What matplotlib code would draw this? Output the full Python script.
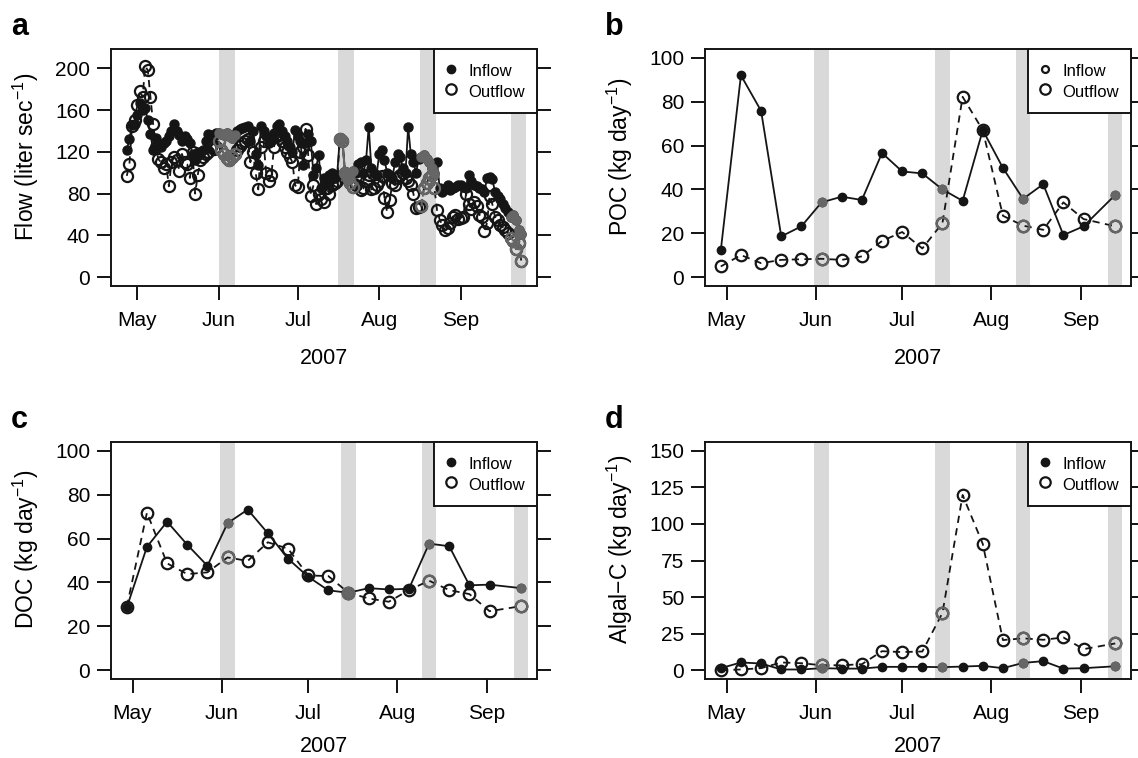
import numpy as np
import pandas as pd
import matplotlib
matplotlib.use("Agg")
import matplotlib.pyplot as plt
import matplotlib.dates as mdates
from matplotlib.lines import Line2D

plt.rcParams['font.family'] = ['Liberation Sans', 'DejaVu Sans']
plt.rcParams['mathtext.fontset'] = 'custom'
plt.rcParams['mathtext.rm'] = 'Liberation Sans'
plt.rcParams['mathtext.it'] = 'Liberation Sans:italic'

# --- daily flow (liter/sec), 27 Apr - 24 Sep 2007 ---
flow_start = "2007-04-27"
flow_in = [122, 132, 146, 147,
           155, 167, 160, 162, 150, 137, 122, 133, 128, 125, 128, 130, 135, 140, 147, 140,
           136, 130, 135, 132, 128, 118, 112, 120, 118, 122, 130, 137, 136, 135, 138,
           138, 137, 136, 138, 135, 133, 136, 140, 142, 143, 144, 145, 130, 140, 118,
           107, 145, 140, 135, 128, 130, 138, 145, 147, 140, 135, 130, 125, 120, 141,
           135, 130, 107, 128, 137, 130, 98, 105, 117, 85, 95, 90, 98, 100, 95, 98,
           133, 132, 100, 95, 98, 102, 100, 108, 110, 100, 112, 144, 105, 100, 98,
           118, 122, 112, 100, 98, 95, 110, 118, 115, 105, 100, 144, 118, 110, 100, 113,
           115, 117, 113, 110, 105, 100, 110, 85, 82, 84, 88, 83, 85, 86, 88,
           88, 86, 85, 98, 92, 88, 87, 85, 84, 82, 95, 96, 94, 82, 78, 75, 70, 66, 62,
           58, 60, 55, 45, 41]
flow_out = [97, 108, 145, 150,
            165, 178, 172, 202, 198, 172, 147, 125, 113, 110, 105, 108, 87, 110, 115, 112,
            102, 118, 110, 108, 95, 120, 80, 98, 112, 115, 118, 120, 125, 123, 125,
            130, 122, 118, 114, 112, 115, 118, 122, 126, 128, 130, 132, 110, 120, 100,
            84, 125, 130, 100, 92, 98, 125, 135, 137, 130, 125, 120, 115, 110, 88,
            86, 120, 125, 142, 117, 78, 88, 70, 80, 75, 72, 85, 80, 88, 90, 92,
            132, 130, 100, 95, 90, 86, 88, 95, 83, 85, 92, 98, 84, 85, 88,
            92, 97, 76, 62, 74, 90, 88, 95, 98, 100, 95, 92, 88, 80, 66, 67,
            68, 85, 90, 95, 98, 85, 64, 55, 50, 45, 47, 52, 58, 60, 56,
            57, 58, 80, 70, 65, 72, 68, 60, 58, 44, 52, 78, 70, 58, 55, 50, 48, 45, 42,
            38, 35, 27, 33, 16]
flow_bands = [("2007-06-01", "2007-06-07"), ("2007-07-16 12:00", "2007-07-22 12:00"),
              ("2007-08-16 12:00", "2007-08-22 12:00"), ("2007-09-20", "2007-09-26")]

# --- weekly loads (kg/day) ---
sample_dates = ["2007-04-29", "2007-05-06", "2007-05-13", "2007-05-20", "2007-05-27",
                "2007-06-03", "2007-06-10", "2007-06-17", "2007-06-24", "2007-07-01",
                "2007-07-08", "2007-07-15", "2007-07-22", "2007-07-29", "2007-08-05",
                "2007-08-12", "2007-08-19", "2007-08-26", "2007-09-02", "2007-09-13"]
poc_in = [12.2, 92, 75.8, 18.6, 23.2, 34.1, 36.7, 35.2, 56.6, 48.2,
          47.3, 40, 34.8, 67, 49.8, 35.7, 42.4, 19.2, 23.2, 37.5]
poc_out = [4.9, 10.1, 6.4, 7.9, 8.2, 8.4, 7.9, 9.5, 16.5, 20.6,
           13.1, 24.7, 82.2, 67, 28, 23.5, 21.6, 34.1, 26.5, 23.2]
doc_in = [28.6, 56.2, 67.7, 57.2, 47.6, 67, 73.2, 62.4, 50.8, 42.6,
          36.4, 35.3, 37.4, 36.8, 37.1, 57.7, 56.5, 38.7, 39, 37.4]
doc_out = [28.9, 71.8, 48.7, 43.8, 44.6, 51.4, 49.8, 58.3, 55.4, 43.2,
           42.9, 35.3, 32.7, 31.2, 36.5, 40.8, 36.5, 34.7, 26.9, 29.2]
algal_in = [1.4, 5.3, 4.6, 0.5, 0.5, 1.4, 1.1, 1.1, 2.3, 2.3,
            2.3, 2.1, 2.5, 3, 1.4, 5, 6.2, 1.1, 1.4, 2.7]
algal_out = [0, 0.5, 1.4, 5.3, 4.8, 3.4, 3.4, 4.1, 13, 12.4,
             12.8, 39.2, 119.8, 86.3, 20.6, 21.8, 20.8, 22.4, 14.4, 18.3]
sample_bands = [("2007-05-31 12:00", "2007-06-05 12:00"), ("2007-07-12 12:00", "2007-07-17 12:00"),
                ("2007-08-09 12:00", "2007-08-14 12:00"), ("2007-09-10 12:00", "2007-09-15 12:00")]

month_ticks = ["2007-05-01", "2007-06-01", "2007-07-01", "2007-08-01", "2007-09-01"]
month_labels = ["May", "Jun", "Jul", "Aug", "Sep"]

BLACK = '#151515'
GRAY = '#666666'
BAND = '#d9d9d9'


def draw_panel(ax, dates, inflow, outflow, bands, letter, ylabel, ylim, yticks,
               ms_in, ms_out, open_inflow_key=False, xlab_y=-0.305):
    dates = pd.to_datetime(pd.Series(dates)).values
    inflow = np.asarray(inflow, float)
    outflow = np.asarray(outflow, float)
    for b0, b1 in bands:
        ax.axvspan(pd.Timestamp(b0), pd.Timestamp(b1), color=BAND, lw=0, zorder=0)

    ax.plot(dates, outflow, ls=(0, (4, 3)), color=BLACK, lw=1.3, marker='o', ms=ms_out,
            mfc='none', mec=BLACK, mew=1.6, zorder=2)
    ax.plot(dates, inflow, ls='-', color=BLACK, lw=1.3, marker='o', ms=ms_in,
            mfc=BLACK, mec=BLACK, zorder=3)
    # points inside the shaded periods drawn in grey
    for b0, b1 in bands:
        m = (dates >= np.datetime64(pd.Timestamp(b0))) & (dates <= np.datetime64(pd.Timestamp(b1)))
        if m.any():
            ax.plot(dates[m], outflow[m], ls='--', color=GRAY, lw=1.3, marker='o', ms=ms_out,
                    mfc='none', mec=GRAY, mew=1.6, zorder=4)
            ax.plot(dates[m], inflow[m], ls='-', color=GRAY, lw=1.3, marker='o', ms=ms_in,
                    mfc=GRAY, mec=GRAY, zorder=5)

    lo = mdates.date2num(dates.min())
    hi = mdates.date2num(dates.max())
    pad = 0.04 * (hi - lo)
    ax.set_xlim(lo - pad, hi + pad)
    rng = ylim[1] - ylim[0]
    ax.set_ylim(ylim[0] - 0.04 * rng, ylim[1] + 0.04 * rng)

    ax.set_xticks(pd.to_datetime(month_ticks))
    ax.set_xticklabels(month_labels)
    ax.set_yticks(yticks)
    ax.tick_params(axis='both', direction='out', length=10, width=1.3, labelsize=15,
                   right=True, labelright=False, top=False)
    ax.tick_params(axis='x', pad=8)
    ax.tick_params(axis='y', pad=5)
    for s in ax.spines.values():
        s.set_linewidth(1.4)
        s.set_color(BLACK)

    ax.set_xlabel("2007", fontsize=15.5, va='center')
    ax.xaxis.set_label_coords(0.5, xlab_y)
    ax.set_ylabel(ylabel, fontsize=16.5, va='center')
    ax.yaxis.set_label_coords(-0.2, 0.546)
    ax.text(-0.235, 1.06, letter, transform=ax.transAxes, fontsize=22,
            fontweight='bold', va='baseline', ha='left')

    if open_inflow_key:
        h_in = Line2D([], [], ls='none', marker='o', ms=5, mfc='none', mec=BLACK, mew=1.6)
    else:
        h_in = Line2D([], [], ls='none', marker='o', ms=6, mfc=BLACK, mec=BLACK)
    h_out = Line2D([], [], ls='none', marker='o', ms=7.5, mfc='none', mec=BLACK, mew=1.6)
    leg = ax.legend([h_in, h_out], ["Inflow", "Outflow"], loc='upper right',
                    borderaxespad=0, fancybox=False, framealpha=1, edgecolor=BLACK,
                    fontsize=12, borderpad=0.72, labelspacing=0.05, handlelength=0.66,
                    handleheight=1.45, handletextpad=0.69)
    leg.get_frame().set_linewidth(1.4)
    leg.set_zorder(10)


fig = plt.figure(figsize=(11.38, 7.58), dpi=100)
W, H = 1138, 758
ax_a = fig.add_axes([111 / W, 1 - 286 / H, 426 / W, 237 / H])
ax_b = fig.add_axes([705 / W, 1 - 286 / H, 426 / W, 237 / H])
ax_c = fig.add_axes([111 / W, 1 - 679 / H, 426 / W, 237 / H])
ax_d = fig.add_axes([705 / W, 1 - 679 / H, 426 / W, 237 / H])

flow_dates = pd.date_range(flow_start, periods=len(flow_in), freq='D')

draw_panel(ax_a, flow_dates, flow_in, flow_out, flow_bands, 'a',
           "Flow (liter sec$^{-1}$)", (0, 210), [0, 40, 80, 120, 160, 200], 6.5, 8)
draw_panel(ax_b, sample_dates, poc_in, poc_out, sample_bands, 'b',
           "POC (kg day$^{-1}$)", (0, 100), [0, 20, 40, 60, 80, 100], 6, 8.3,
           open_inflow_key=True)
draw_panel(ax_c, sample_dates, doc_in, doc_out, sample_bands, 'c',
           "DOC (kg day$^{-1}$)", (0, 100), [0, 20, 40, 60, 80, 100], 6, 8.3,
           xlab_y=-0.285)
draw_panel(ax_d, sample_dates, algal_in, algal_out, sample_bands, 'd',
           "Algal\u2212C (kg day$^{-1}$)", (0, 150), [0, 25, 50, 75, 100, 125, 150], 6, 8.3,
           xlab_y=-0.285)

fig.savefig("out.png", dpi=100)
